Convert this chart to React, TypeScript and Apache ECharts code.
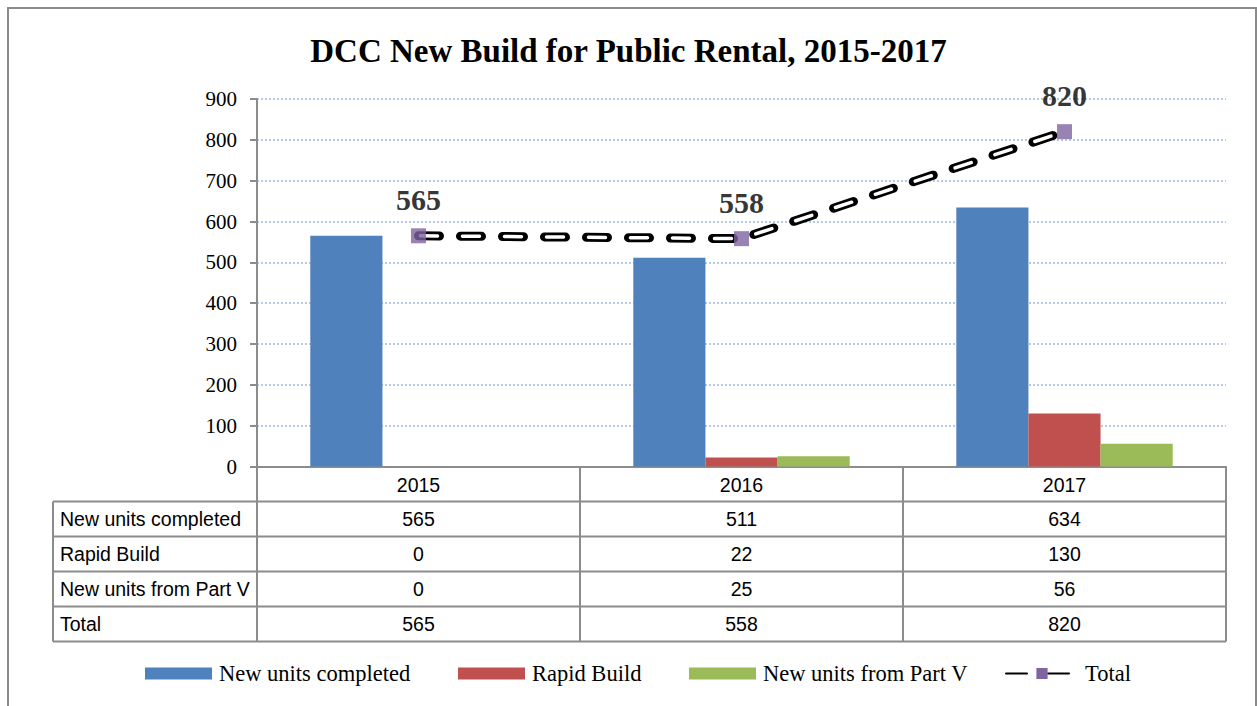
import React, { useEffect, useRef } from "react";
import * as echarts from "echarts";

const categories = ["2015", "2016", "2017"];
const newUnitsCompleted = [565, 511, 634];
const rapidBuild = [0, 22, 130];
const newUnitsPartV = [0, 25, 56];
const total = [565, 558, 820];
const seriesNames = ["New units completed", "Rapid Build", "New units from Part V", "Total"];
const yMin = 0;
const yMax = 900;
const yInterval = 100;

const W = 1257;
const H = 706;
const plotLeft = 257;
const plotRight = 1226;
const plotTop = 99;
const plotBottom = 466.5;
const tableLeft = 53;
const rowH = 35;

const SERIF = "'Liberation Serif', 'DejaVu Serif', serif";
const SANS = "'Liberation Sans', Arial, sans-serif";
const LINE_GRAY = "#8C8C8C";

export default function App() {
  const ref = useRef<HTMLDivElement>(null);

  useEffect(() => {
    if (!ref.current) return;
    const chart = echarts.init(ref.current, undefined, { renderer: "svg" });

    const tableRows = [
      { name: seriesNames[0], values: newUnitsCompleted },
      { name: seriesNames[1], values: rapidBuild },
      { name: seriesNames[2], values: newUnitsPartV },
      { name: seriesNames[3], values: total },
    ];
    const colW = (plotRight - plotLeft) / categories.length;
    const tableTop = plotBottom + rowH;
    const tableBottom = tableTop + rowH * tableRows.length;

    const graphics: any[] = [];
    graphics.push({
      type: "rect",
      shape: { x: 8, y: 8, width: 1248, height: 740 },
      style: { fill: "none", stroke: "#8A8A8A", lineWidth: 2 },
      silent: true,
    });
    for (let i = 0; i <= categories.length; i++) {
      const x = plotLeft + i * colW;
      graphics.push({
        type: "line",
        shape: { x1: x, y1: plotBottom, x2: x, y2: tableBottom },
        style: { stroke: LINE_GRAY, lineWidth: 2 },
        silent: true,
      });
    }
    graphics.push({
      type: "line",
      shape: { x1: tableLeft, y1: tableTop, x2: tableLeft, y2: tableBottom },
      style: { stroke: LINE_GRAY, lineWidth: 2 },
      silent: true,
    });
    for (let r = 0; r <= tableRows.length; r++) {
      const y = tableTop + r * rowH;
      graphics.push({
        type: "line",
        shape: { x1: tableLeft, y1: y, x2: plotRight, y2: y },
        style: { stroke: LINE_GRAY, lineWidth: 2 },
        silent: true,
      });
    }
    tableRows.forEach((row, r) => {
      const cy = tableTop + r * rowH + rowH / 2;
      graphics.push({
        type: "text",
        x: tableLeft + 7,
        y: cy,
        style: {
          text: row.name,
          font: `19.5px ${SANS}`,
          fill: "#000",
          verticalAlign: "middle",
          align: "left",
        },
        silent: true,
      });
      row.values.forEach((v, c) => {
        graphics.push({
          type: "text",
          x: plotLeft + c * colW + colW / 2,
          y: cy,
          style: {
            text: String(v),
            font: `19.5px ${SANS}`,
            fill: "#000",
            verticalAlign: "middle",
            align: "center",
          },
          silent: true,
        });
      });
    });

    const legendTextStyle = {
      fontFamily: SERIF,
      fontSize: 22.5,
      color: "#000",
      padding: [0, 0, 0, 2],
    };
    const legendBase = {
      top: 662,
      padding: 0,
      itemHeight: 12,
      itemWidth: 67,
      textStyle: legendTextStyle,
      selectedMode: false,
    };

    chart.setOption({
      animation: false,
      backgroundColor: "#fff",
      title: {
        text: "DCC New Build for Public Rental, 2015-2017",
        left: "center",
        top: 29,
        textStyle: {
          fontFamily: SERIF,
          fontSize: 33,
          fontWeight: "bold",
          color: "#000",
        },
      },
      legend: [
        { ...legendBase, left: 145, data: [{ name: seriesNames[0], icon: "rect" }] },
        { ...legendBase, left: 458, data: [{ name: seriesNames[1], icon: "rect" }] },
        { ...legendBase, left: 689, data: [{ name: seriesNames[2], icon: "rect" }] },
        { ...legendBase, left: 1005, itemWidth: 72, itemHeight: 14, data: [{ name: seriesNames[3] }] },
      ],
      grid: {
        left: plotLeft,
        right: W - plotRight,
        top: plotTop,
        bottom: H - plotBottom,
        containLabel: false,
      },
      xAxis: {
        type: "category",
        data: categories,
        axisLine: { lineStyle: { color: LINE_GRAY, width: 2 } },
        axisTick: { show: false },
        axisLabel: {
          fontFamily: SANS,
          fontSize: 19.5,
          color: "#000",
          margin: 8,
        },
      },
      yAxis: {
        type: "value",
        min: yMin,
        max: yMax,
        interval: yInterval,
        axisLine: { show: true, lineStyle: { color: LINE_GRAY, width: 2 } },
        axisTick: { show: true, length: 7, lineStyle: { color: LINE_GRAY, width: 2 } },
        axisLabel: {
          fontFamily: SERIF,
          fontSize: 21,
          color: "#000",
          margin: 20,
        },
        splitLine: {
          lineStyle: { color: "#9DB8E3", type: [2, 2], width: 1.5 },
        },
      },
      graphic: graphics,
      series: [
        {
          name: seriesNames[0],
          type: "bar",
          data: newUnitsCompleted,
          barGap: "0%",
          barCategoryGap: "33%",
          itemStyle: { color: "#4F81BD" },
        },
        {
          name: seriesNames[1],
          type: "bar",
          data: rapidBuild,
          barGap: "0%",
          barCategoryGap: "33%",
          itemStyle: { color: "#C0504D" },
        },
        {
          name: seriesNames[2],
          type: "bar",
          data: newUnitsPartV,
          barGap: "0%",
          barCategoryGap: "33%",
          itemStyle: { color: "#9BBB59" },
        },
        {
          name: seriesNames[3],
          type: "line",
          data: total,
          z: 3,
          symbol: "rect",
          symbolSize: 15,
          showSymbol: false,
          itemStyle: { color: "#8064A2" },
          lineStyle: { color: "#000", width: 9, type: [21, 21], cap: "round" },
        },
        {
          name: "Total inner",
          type: "line",
          data: total,
          z: 4,
          symbol: "none",
          lineStyle: { color: "#fff", width: 3.5, type: [17, 25], dashOffset: -2, cap: "round" },
          tooltip: { show: false },
        },
        {
          name: "Total markers",
          type: "scatter",
          data: total,
          z: 5,
          symbol: "rect",
          symbolSize: 15,
          itemStyle: { color: "#8064A2" },
          label: {
            show: true,
            position: "top",
            distance: 14,
            fontFamily: SERIF,
            fontSize: 30,
            fontWeight: "bold",
            color: "#000",
          },
        },
      ],
    });

    return () => {
      chart.dispose();
    };
  }, []);

  return (
    <div
      ref={ref}
      style={{ position: "fixed", left: 0, top: 0, width: W, height: H }}
    />
  );
}
